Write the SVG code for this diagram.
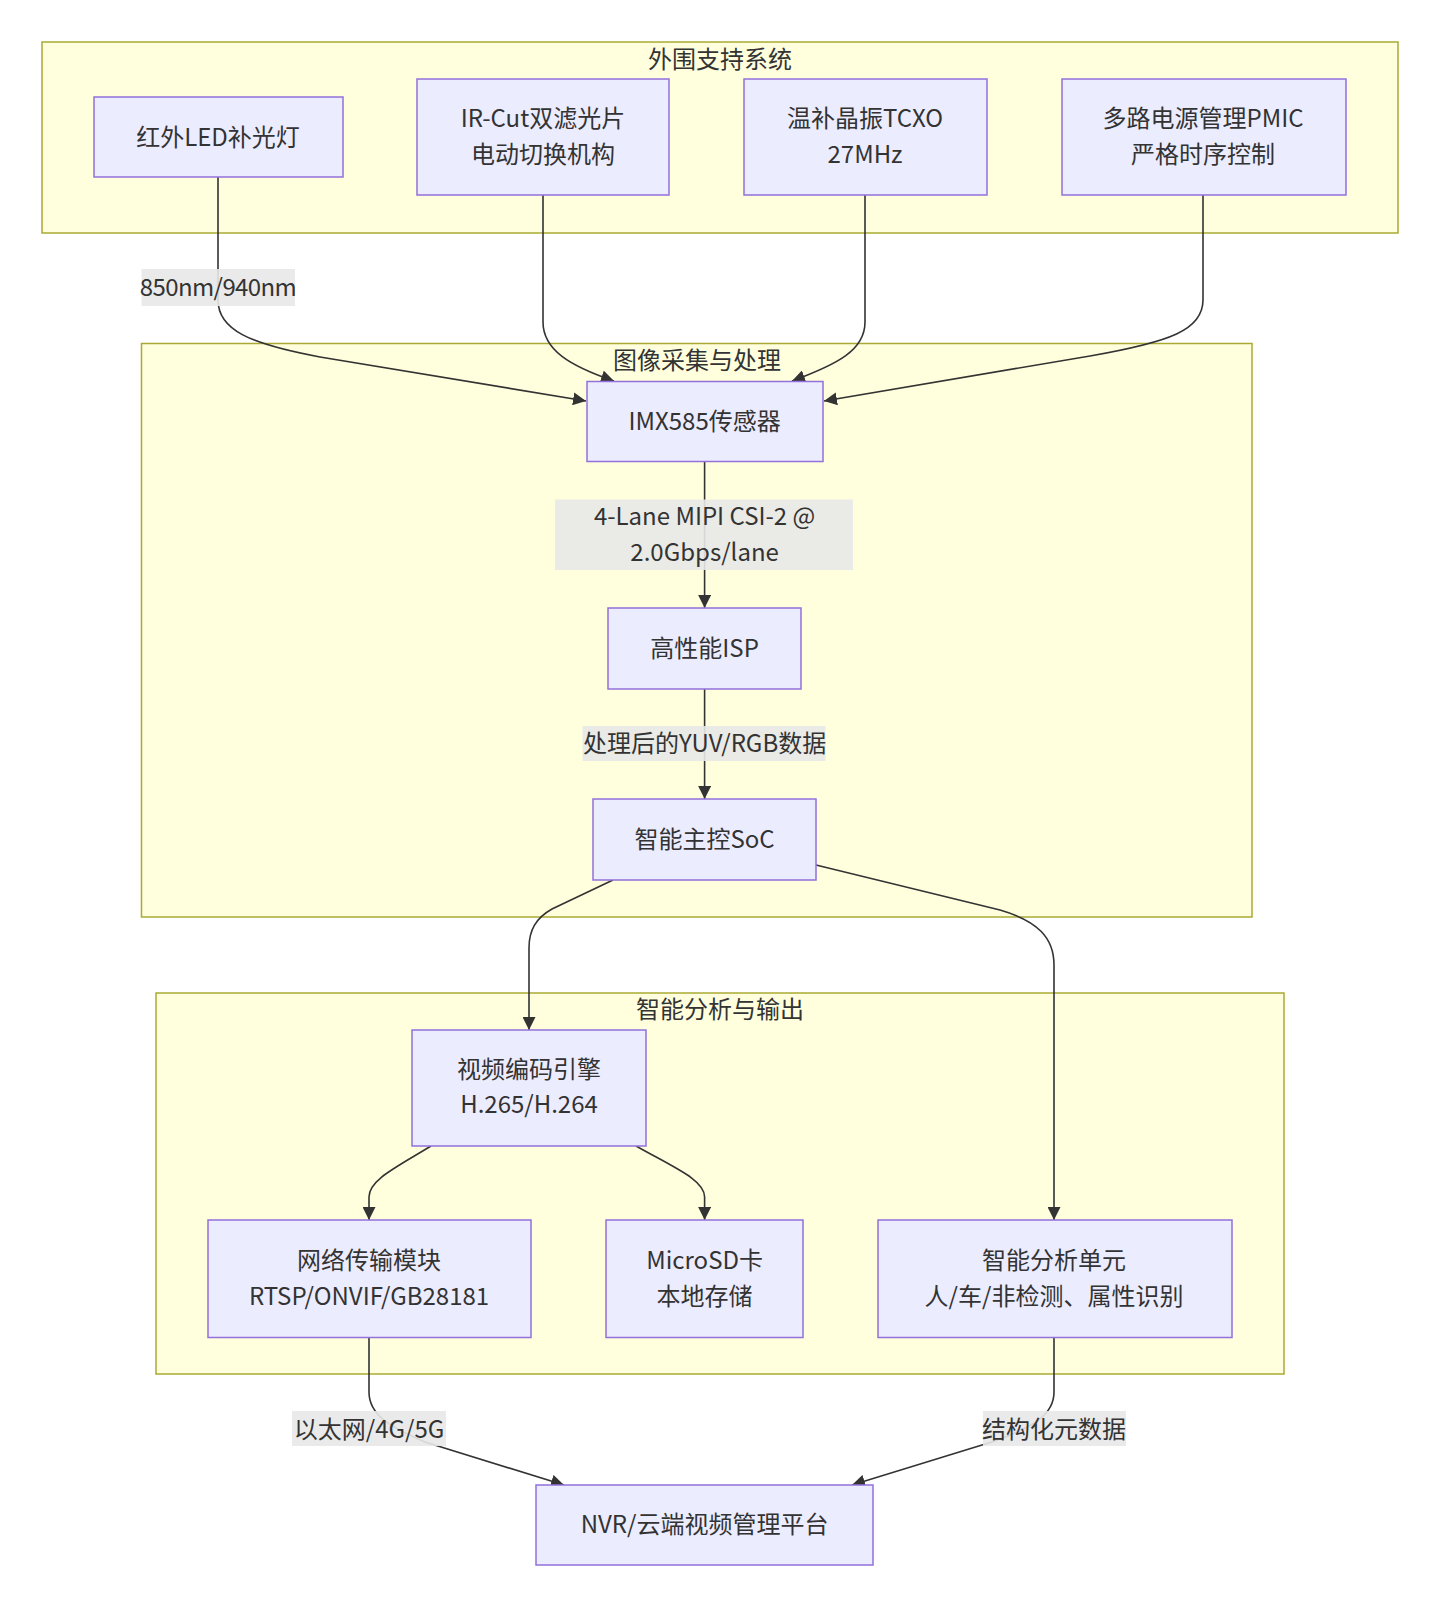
<svg xmlns="http://www.w3.org/2000/svg" width="1440" height="1608" viewBox="0 0 1440 1608">
<defs>
<style>
.bg{fill:#ffffff}
.cluster{fill:#ffffde;stroke:#aaaa33;stroke-width:1.5}
.node{fill:#ececff;stroke:#9370db;stroke-width:1.5}
.t{font-family:"Noto Sans CJK SC","Noto Sans",sans-serif;font-size:24px;fill:#333333;text-anchor:middle;dominant-baseline:central}
.edge{fill:none;stroke:#333333;stroke-width:1.6}
.lbl{fill:#e8e8e8;opacity:0.9}
</style>
<marker id="arr" viewBox="0 0 10 10" refX="10" refY="5" markerWidth="13" markerHeight="13" markerUnits="userSpaceOnUse" orient="auto">
<path d="M0,0 L10,5 L0,10 z" fill="#333333"/>
</marker>
</defs>
<rect class="bg" x="0" y="0" width="1440" height="1608"/>

<g id="cluster-peripheral">
<rect class="cluster" x="42" y="42" width="1356" height="191"/>
<text class="t" x="720" y="57">外围支持系统</text>
</g>
<g id="cluster-capture">
<rect class="cluster" x="141.5" y="343.5" width="1110.5" height="573.5"/>
<text class="t" x="697" y="358.5">图像采集与处理</text>
</g>
<g id="cluster-output">
<rect class="cluster" x="156" y="993" width="1128" height="381"/>
<text class="t" x="720" y="1007.5">智能分析与输出</text>
</g>

<g id="connectors">
<path class="edge" d="M218,177 L218,300 C218,330 250,344 320,357 L586,401" marker-end="url(#arr)"/>
<path class="edge" d="M543,195 L543,322 C543,350 570,366 614,381" marker-end="url(#arr)"/>
<path class="edge" d="M865,195 L865,322 C865,350 838,364 792,381" marker-end="url(#arr)"/>
<path class="edge" d="M1203,195 L1203,300 C1203,330 1170,342 1090,356 L824,401" marker-end="url(#arr)"/>
<path class="edge" d="M704.6,461.5 L704.6,608" marker-end="url(#arr)"/>
<path class="edge" d="M704.6,689 L704.6,799" marker-end="url(#arr)"/>
<path class="edge" d="M613,880 L552,909 C536,918 529,930 529,948 L529,1030" marker-end="url(#arr)"/>
<path class="edge" d="M816,865 L1000,910 C1038,921 1054,938 1054,965 L1054,1220" marker-end="url(#arr)"/>
<path class="edge" d="M431,1146 C395,1168 369,1180 369,1197 L369,1220" marker-end="url(#arr)"/>
<path class="edge" d="M636,1146 C675,1168 704.6,1180 704.6,1197 L704.6,1220" marker-end="url(#arr)"/>
<path class="edge" d="M369,1338 L369,1392 C369,1415 390,1427 425,1442 L564,1485" marker-end="url(#arr)"/>
<path class="edge" d="M1054,1338 L1054,1392 C1054,1415 1033,1427 995,1441 L852,1485" marker-end="url(#arr)"/>
</g>

<g id="edge-labels">
<rect class="lbl" x="141.5" y="269" width="153.5" height="37"/>
<text class="t" x="218" y="285" letter-spacing="-0.6">850nm/940nm</text>
<rect class="lbl" x="555" y="499.5" width="298" height="70.5"/>
<text class="t" x="704.6" y="514">4-Lane MIPI CSI-2 @</text>
<text class="t" x="704.6" y="550">2.0Gbps/lane</text>
<rect class="lbl" x="582.5" y="726" width="243" height="35"/>
<text class="t" x="704.6" y="741">处理后的YUV/RGB数据</text>
<rect class="lbl" x="292" y="1411" width="154" height="35"/>
<text class="t" x="369" y="1427">以太网/4G/5G</text>
<rect class="lbl" x="983" y="1411" width="143" height="35"/>
<text class="t" x="1054" y="1427">结构化元数据</text>
</g>

<g id="node-led">
<rect class="node" x="94" y="97" width="249" height="80"/>
<text class="t" x="218" y="135">红外LED补光灯</text>
</g>
<g id="node-ircut">
<rect class="node" x="417" y="79" width="252" height="116"/>
<text class="t" x="543" y="116.5">IR-Cut双滤光片</text>
<text class="t" x="543" y="152.5">电动切换机构</text>
</g>
<g id="node-tcxo">
<rect class="node" x="744" y="79" width="243" height="116"/>
<text class="t" x="865" y="116.5">温补晶振TCXO</text>
<text class="t" x="865" y="152.5">27MHz</text>
</g>
<g id="node-pmic">
<rect class="node" x="1062" y="79" width="284" height="116"/>
<text class="t" x="1203" y="116.5">多路电源管理PMIC</text>
<text class="t" x="1203" y="152.5">严格时序控制</text>
</g>
<g id="node-imx">
<rect class="node" x="587" y="381.5" width="236" height="80"/>
<text class="t" x="704.6" y="419">IMX585传感器</text>
</g>
<g id="node-isp">
<rect class="node" x="608" y="608" width="193" height="81"/>
<text class="t" x="704.6" y="646">高性能ISP</text>
</g>
<g id="node-soc">
<rect class="node" x="593" y="799" width="223" height="81"/>
<text class="t" x="704.6" y="837">智能主控SoC</text>
</g>
<g id="node-encoder">
<rect class="node" x="412" y="1030" width="234" height="116"/>
<text class="t" x="529" y="1067.5">视频编码引擎</text>
<text class="t" x="529" y="1102.5">H.265/H.264</text>
</g>
<g id="node-network">
<rect class="node" x="208" y="1220" width="323" height="117.5"/>
<text class="t" x="369" y="1258">网络传输模块</text>
<text class="t" x="369" y="1294">RTSP/ONVIF/GB28181</text>
</g>
<g id="node-sd">
<rect class="node" x="606" y="1220" width="197" height="117.5"/>
<text class="t" x="704.6" y="1258">MicroSD卡</text>
<text class="t" x="704.6" y="1294">本地存储</text>
</g>
<g id="node-ai">
<rect class="node" x="878" y="1220" width="354" height="117.5"/>
<text class="t" x="1054" y="1258">智能分析单元</text>
<text class="t" x="1054" y="1294">人/车/非检测、属性识别</text>
</g>
<g id="node-nvr">
<rect class="node" x="536" y="1485" width="337" height="80"/>
<text class="t" x="704.6" y="1522.5">NVR/云端视频管理平台</text>
</g>
</svg>
